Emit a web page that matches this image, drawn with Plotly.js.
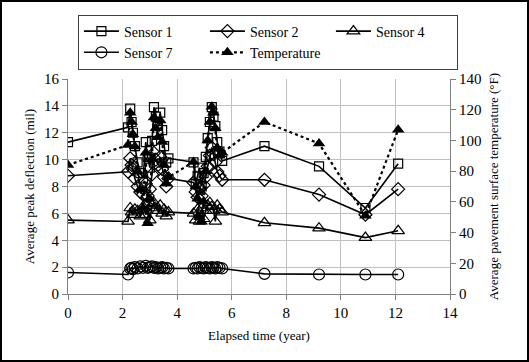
<!DOCTYPE html>
<html>
<head>
<meta charset="utf-8">
<script src="https://cdn.plot.ly/plotly-3.0.1.min.js"></script>
<style>
html,body{margin:0;padding:0;background:#fff;}
#chart{width:525px;height:358px;border:2px solid #000;}
#chart text{font-family:'Liberation Serif', serif !important;}
</style>
</head>
<body>
<div id="chart"></div>
<script>
// Elapsed time (year) of each survey
var years = [0, 2.2,
  2.28, 2.33, 2.38, 2.45, 2.55, 2.65, 2.75, 2.85, 2.92, 3.0, 3.08, 3.15, 3.22, 3.3, 3.38, 3.45, 3.52, 3.6, 3.68,
  4.6, 4.68, 4.75, 4.82, 4.9, 4.97, 5.05, 5.12, 5.2, 5.27, 5.33, 5.4, 5.47, 5.55, 5.65,
  7.2, 9.2, 10.9, 12.1];
// Average peak deflection (mil)
var sensor1 = [11.3, 12.4,
  13.8, 12.8, 12.0, 11.0, 9.8, 9.0, 8.6, 11.3, 10.2, 9.4, 11.4, 13.9, 13.2, 12.6, 13.5, 12.2, 11.0, 9.8, 10.1,
  9.8, 8.2, 8.8, 9.4, 8.0, 9.0, 10.2, 11.6, 12.8, 13.9, 13.2, 12.5, 11.3, 10.6, 9.9,
  11.0, 9.5, 6.4, 9.7];
var sensor2 = [8.8, 9.1,
  10.1, 9.6, 9.3, 8.6, 8.0, 7.6, 7.4, 8.2, 7.3, 7.8, 8.9, 10.5, 10.0, 9.6, 10.2, 9.3, 8.7, 8.0, 8.6,
  8.3, 7.6, 7.2, 7.9, 7.3, 8.1, 8.7, 9.5, 10.3, 10.9, 10.4, 9.8, 9.1, 8.8, 8.5,
  8.5, 7.4, 5.9, 7.8];
var sensor4 = [5.5, 5.4,
  6.4, 6.1, 5.9, 6.3, 6.2, 5.8, 6.5, 5.9, 6.7, 5.5, 6.6, 6.8, 6.4, 6.2, 6.6, 6.0, 6.3, 5.8, 6.1,
  6.0, 5.5, 6.3, 5.4, 6.4, 5.6, 6.2, 6.6, 6.8, 6.5, 6.2, 5.4, 6.6, 6.3, 6.1,
  5.3, 4.9, 4.2, 4.7];
var sensor7 = [1.6, 1.45,
  1.9, 1.95, 1.85, 2.0, 1.9, 2.05, 1.95, 2.1, 1.95, 2.0, 2.05, 1.95, 2.0, 1.9, 1.95, 2.0, 1.9, 1.95, 1.9,
  1.9, 1.95, 1.9, 2.0, 1.95, 1.9, 2.0, 1.95, 1.9, 2.0, 1.95, 1.9, 2.0, 1.95, 1.9,
  1.5, 1.45, 1.45, 1.45];
// Average pavement surface temperature (°F)
var temperature = [84, 97,
  118, 112, 104, 96, 80, 68, 56, 92, 46, 62, 88, 115, 108, 102, 113, 99, 84, 72, 76,
  86, 70, 62, 50, 47, 60, 80, 100, 112, 122, 118, 108, 95, 90, 92,
  112, 98, 51, 107];

var names = ['Sensor 1', 'Sensor 2', 'Sensor 4', 'Sensor 7'];
var series = [sensor1, sensor2, sensor4, sensor7];
var symbols = ['square-open', 'diamond-open', 'triangle-up-open', 'circle-open'];
var sizes = [9, 10, 11, 11];

var traces = [];
for (var i = 0; i < series.length; i++) {
  traces.push({
    x: years, y: series[i], name: names[i], type: 'scatter', mode: 'lines+markers',
    line: {color: '#000', width: 1.6},
    marker: {symbol: symbols[i], size: sizes[i], color: '#000', line: {width: 1.2, color: '#000'}}
  });
}
traces.push({
  x: years, y: temperature, name: 'Temperature', type: 'scatter', mode: 'lines+markers',
  yaxis: 'y2',
  line: {color: '#000', width: 2.2, dash: 'dot'},
  marker: {symbol: 'triangle-up', size: 11, color: '#000'}
});

function mkFont(sz) { return {family: 'Liberation Serif', size: sz, color: '#000'}; }

var layout = {
  width: 525, height: 358,
  margin: {l: 66, r: 77, t: 72, b: 66},
  paper_bgcolor: '#fff', plot_bgcolor: '#fff',
  font: {family: 'Liberation Serif', size: 15, color: '#000'},
  showlegend: true,
  legend: {
    orientation: 'h', x: 0.026, xanchor: 'left', y: 1.3, yanchor: 'top',
    bordercolor: '#404040', borderwidth: 1, bgcolor: '#fff',
    entrywidth: 76, entrywidthmode: 'pixels', itemwidth: 35,
    font: mkFont(14)
  },
  xaxis: {
    range: [0, 14], dtick: 2, tick0: 0,
    showgrid: true, gridcolor: '#c0c0c0', gridwidth: 1,
    showline: true, linecolor: '#808080', linewidth: 1,
    ticks: 'outside', ticklen: 5, tickcolor: '#808080',
    zeroline: false, tickfont: mkFont(15),
    title: {text: 'Elapsed time (year)', font: mkFont(13), standoff: 10}
  },
  yaxis: {
    range: [0, 16], dtick: 2, tick0: 0,
    showgrid: true, gridcolor: '#c0c0c0', gridwidth: 1,
    showline: true, linecolor: '#808080', linewidth: 1,
    ticks: 'outside', ticklen: 5, tickcolor: '#808080',
    zeroline: false, tickfont: mkFont(15),
    title: {text: 'Average peak deflection (mil)', font: mkFont(13), standoff: 6}
  },
  yaxis2: {
    range: [0, 140], dtick: 20, tick0: 0,
    overlaying: 'y', side: 'right',
    showgrid: false,
    showline: true, linecolor: '#808080', linewidth: 1,
    ticks: 'outside', ticklen: 5, tickcolor: '#808080',
    zeroline: false, tickfont: mkFont(15),
    title: {text: 'Average pavement surface temperature (°F)', font: mkFont(13), standoff: 8}
  }
};

Plotly.newPlot('chart', traces, layout, {displayModeBar: false, staticPlot: true});
</script>
</body>
</html>
